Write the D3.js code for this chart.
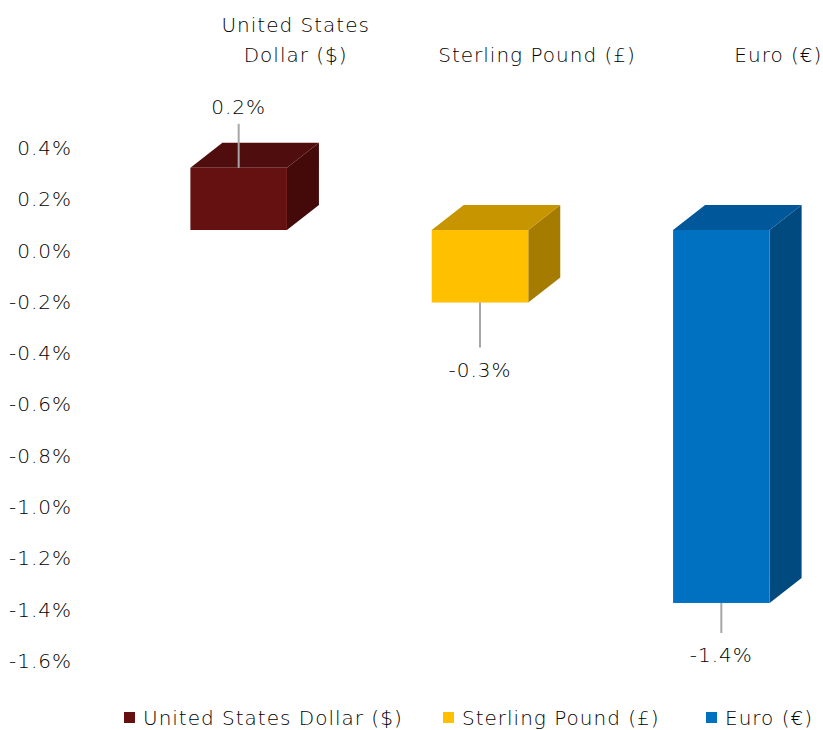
<!DOCTYPE html>
<html><head><meta charset="utf-8">
<script src="https://cdn.jsdelivr.net/npm/d3@7"></script>
<style>
html,body{margin:0;padding:0;background:#fff;}
text{font-family:"DejaVu Sans",sans-serif;fill:#000;font-weight:300;letter-spacing:1px;}
</style></head>
<body><svg id="c" width="823" height="730"></svg>
<script>
const categories = ["United States Dollar ($)", "Sterling Pound (£)", "Euro (€)"];
const titleLines = [["United States", "Dollar ($)"], ["Sterling Pound (£)"], ["Euro (€)"]];
const values = [0.24, -0.28, -1.44];
const valueLabels = ["0.2%", "-0.3%", "-1.4%"];
const tickValues = [0.4, 0.2, 0.0, -0.2, -0.4, -0.6, -0.8, -1.0, -1.2, -1.4, -1.6];
const frontColors = ["#651011", "#FFC000", "#0070C0"];
const topColors = ["#4F0D0D", "#C79500", "#00579A"];
const sideColors = ["#440909", "#A67C00", "#004A80"];

const FONT = "'DejaVu Sans', sans-serif";
const FS = "20px";
const svg = d3.select("#c");
const yAxis = d3.scaleLinear().domain([-1.6, 0.4]).range([661, 148]);
const yBar = d3.scaleLinear().domain([-1.6, 0.4]).range([230 + 1.6 * 259, 230 - 0.4 * 259]);
const x = d3.scaleBand().domain(categories).range([118, 842]).paddingInner(0.6).paddingOuter(0.3);
const dx = 32, dy = -25;

// axis
const ax = svg.append("g").attr("transform", "translate(72,0)")
  .call(d3.axisLeft(yAxis).tickValues(tickValues).tickSize(0).tickPadding(0)
    .tickFormat(d => d3.format(".1f")(d).replace("\u2212", "-") + "%"));
ax.select(".domain").remove();
ax.selectAll("text").style("font-size", FS).style("font-family", FONT).attr("fill", "#000");

// bars
categories.forEach((c, i) => {
  const x0 = x(c), x1 = x0 + x.bandwidth();
  const yt = yBar(Math.max(0, values[i])), yb = yBar(Math.min(0, values[i]));
  const g = svg.append("g");
  g.append("polygon").attr("points", [[x1, yt], [x1 + dx, yt + dy], [x1 + dx, yb + dy], [x1, yb]].join(" "))
    .attr("fill", sideColors[i]);
  g.append("polygon").attr("points", [[x0, yt], [x0 + dx, yt + dy], [x1 + dx, yt + dy], [x1, yt]].join(" "))
    .attr("fill", topColors[i]);
  g.append("rect").attr("x", x0).attr("y", yt).attr("width", x1 - x0).attr("height", yb - yt)
    .attr("fill", frontColors[i]);
  const cx = x0 + x.bandwidth() / 2;
  if (values[i] >= 0) {
    g.append("line").attr("x1", cx).attr("x2", cx).attr("y1", yt).attr("y2", yt - 44)
      .attr("stroke", "#a6a6a6").attr("stroke-width", 2);
    g.append("text").attr("x", cx).attr("y", yt - 54).attr("text-anchor", "middle")
      .style("font-size", FS).text(valueLabels[i]);
  } else {
    const len = i === 2 ? 30 : 45;
    g.append("line").attr("x1", cx).attr("x2", cx).attr("y1", yb).attr("y2", yb + len)
      .attr("stroke", "#a6a6a6").attr("stroke-width", 2);
    g.append("text").attr("x", cx).attr("y", yb + len + 29).attr("text-anchor", "middle")
      .style("font-size", FS).text(valueLabels[i]);
  }
  // category titles on top
  const lines = titleLines[i];
  lines.forEach((ln, j) => {
    g.append("text").attr("x", cx + 57).attr("y", 62 - (lines.length - 1 - j) * 30)
      .attr("text-anchor", "middle").style("font-size", FS).text(ln);
  });
});

// legend
const legX = [124, 443, 706];
categories.forEach((c, i) => {
  svg.append("rect").attr("x", legX[i]).attr("y", 712).attr("width", 11).attr("height", 11).attr("fill", frontColors[i]);
  svg.append("text").attr("x", legX[i] + 19).attr("y", 725).style("font-size", FS).text(c);
});
</script></body></html>
